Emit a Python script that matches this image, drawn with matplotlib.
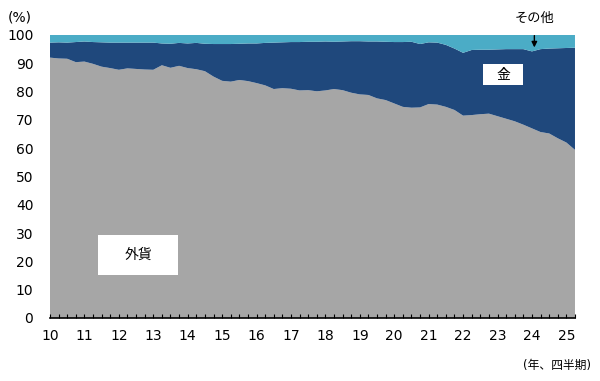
import numpy as np
import matplotlib.pyplot as plt
from matplotlib.patches import Rectangle

plt.rcParams['font.family'] = ['DejaVu Sans', 'Noto Sans CJK JP']

# quarterly shares (%), 2010Q1 .. 2025Q2
fx = [92.0, 91.7, 91.6, 90.4, 90.6, 89.8, 88.8, 88.3, 87.7, 88.2, 88.0, 87.8,
      87.7, 89.3, 88.4, 89.1, 88.3, 87.9, 87.2, 85.3, 83.8, 83.5, 84.1, 83.7,
      83.0, 82.2, 80.9, 81.2, 81.0, 80.4, 80.5, 80.1, 80.4, 80.9, 80.5, 79.6,
      79.0, 78.8, 77.6, 77.0, 75.8, 74.6, 74.3, 74.4, 75.6, 75.4, 74.6, 73.5,
      71.5, 71.7, 72.0, 72.2, 71.3, 70.4, 69.5, 68.3, 67.0, 65.7, 65.2, 63.5,
      62.0, 59.4]
gold = [5.3, 5.7, 5.7, 7.1, 7.1, 7.7, 8.6, 9.0, 9.6, 9.1, 9.3, 9.5,
        9.6, 7.7, 8.5, 8.1, 8.7, 9.3, 9.7, 11.5, 13.0, 13.3, 12.8, 13.3,
        14.0, 15.0, 16.4, 16.2, 16.5, 17.1, 17.1, 17.5, 17.3, 16.7, 17.2, 18.2,
        18.8, 18.9, 20.1, 20.6, 21.7, 22.9, 23.3, 22.4, 21.8, 21.9, 21.9, 21.7,
        22.2, 23.0, 22.8, 22.6, 23.6, 24.6, 25.5, 26.7, 27.2, 29.3, 30.0, 31.8,
        33.4, 36.1]
other = [100 - a - b for a, b in zip(fx, gold)]

t = 10 + np.arange(len(fx)) / 4
year_ticks = list(range(10, 26))

fig = plt.figure(figsize=(6, 3.81), dpi=100)
ax = fig.add_axes([0.0833, 0.1654, 0.8750, 0.7428])

ax.stackplot(t, fx, gold, other, colors=['#A6A6A6', '#1F487C', '#4BACC6'],
             linewidth=0)

ax.set_xlim(10, 25.25)
ax.set_ylim(0, 100)
ax.set_yticks(range(0, 101, 10))
ax.set_xticks(year_ticks)
ax.set_xticks(np.arange(10, 25.3, 0.25), minor=True)
ax.tick_params(axis='y', length=0, labelsize=10, pad=12)
ax.tick_params(axis='x', which='both', direction='in', length=3, width=0.8,
               labelsize=10, pad=8)
for s in ['left', 'right', 'top']:
    ax.spines[s].set_visible(False)
ax.spines['bottom'].set_linewidth(1.2)

# labels
ax.add_patch(Rectangle((11.40, 15.2), 2.33, 14.1, facecolor='white',
                       edgecolor='none', zorder=3))
ax.text(12.57, 22.3, '外貨', ha='center', va='center', fontsize=10, zorder=4)
ax.add_patch(Rectangle((22.58, 82.3), 1.16, 7.45, facecolor='white',
                       edgecolor='none', zorder=3))
ax.text(23.16, 86.0, '金', ha='center', va='center', fontsize=10, zorder=4)
ax.annotate('その他', xy=(24.07, 95.6), xytext=(24.07, 106.0), ha='center',
            va='center', fontsize=9.5, annotation_clip=False,
            arrowprops=dict(arrowstyle='-|>', color='black', lw=1,
                            shrinkA=6, shrinkB=0, mutation_scale=8))

fig.text(0.013, 0.953, '(%)', fontsize=10, va='center')
fig.text(0.985, 0.04, '(年、四半期)', fontsize=8.5, ha='right', va='center')

fig.savefig('out.png', dpi=100)
